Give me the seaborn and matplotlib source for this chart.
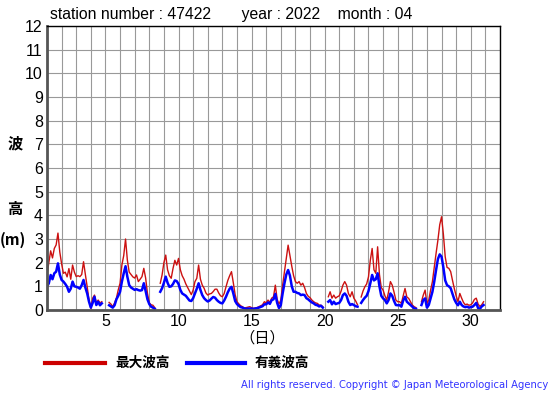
import numpy as np
import pandas as pd
import seaborn as sns
import matplotlib.pyplot as plt
from matplotlib.lines import Line2D

nan = np.nan

# 3-hourly readings, April 1 00h .. April 30 21h (8 values per day)
max_wave = [
    1.5, 2.0, 2.5, 2.2, 2.6, 2.75, 3.25, 2.45,      # 1
    1.95, 1.55, 1.6, 1.4, 1.75, 1.3, 1.9, 1.6,      # 2
    1.41, 1.45, 1.41, 1.5, 2.04, 1.5, 0.98, 0.42,   # 3
    0.07, 0.5, 0.63, 0.28, 0.42, 0.3, 0.35, nan,    # 4
    0.2, nan, 0.32, 0.25, 0.14, 0.3, 0.5, 0.85,     # 5
    1.13, 1.9, 2.3, 3.0, 2.1, 1.6, 1.5, 1.4,        # 6
    1.35, 1.48, 1.2, 1.3, 1.41, 1.76, 1.35, 0.7,    # 7
    0.3, 0.22, 0.2, 0.1, nan, nan, 1.13, 1.48,      # 8
    2.0, 2.32, 1.7, 1.45, 1.34, 1.76, 2.1, 1.9,     # 9
    2.18, 1.7, 1.45, 1.3, 1.1, 0.95, 0.8, 0.65,     # 10
    0.84, 1.2, 1.34, 1.9, 1.3, 1.05, 0.92, 0.72,    # 11
    0.63, 0.68, 0.7, 0.78, 0.88, 0.88, 0.72, 0.6,   # 12
    0.56, 0.7, 0.98, 1.25, 1.45, 1.62, 1.15, 0.65,  # 13
    0.35, 0.26, 0.18, 0.14, 0.08, 0.1, 0.12, 0.14,  # 14
    0.1, 0.07, 0.09, 0.1, 0.14, 0.18, 0.22, 0.35,   # 15
    0.3, 0.42, 0.32, 0.5, 0.56, 1.05, 0.45, 0.25,   # 16
    0.42, 1.05, 1.62, 2.18, 2.74, 2.3, 1.85, 1.45,  # 17
    1.2, 1.13, 1.2, 1.05, 1.13, 0.95, 0.7, 0.58,    # 18
    0.52, 0.42, 0.35, 0.3, 0.28, 0.21, 0.2, 0.14,   # 19
    nan, nan, 0.56, 0.77, 0.5, 0.63, 0.5, 0.56,     # 20
    0.6, 0.8, 1.05, 1.2, 1.05, 0.7, 0.56, 0.77,     # 21
    0.5, 0.38, 0.22, nan, 0.55, 0.8, 0.98, 1.1,     # 22
    1.4, 2.1, 2.6, 1.7, 1.55, 2.67, 1.5, 0.95,      # 23
    0.84, 0.6, 0.42, 0.77, 1.2, 1.05, 0.75, 0.42,   # 24
    0.35, 0.35, 0.28, 0.6, 0.91, 0.55, 0.49, 0.35,  # 25
    0.21, 0.14, 0.1, nan, nan, 0.35, 0.63, 0.84,    # 26
    0.28, 0.42, 0.84, 1.2, 1.8, 2.39, 2.95, 3.6,    # 27
    3.94, 3.2, 2.25, 1.8, 1.76, 1.62, 1.25, 0.9,    # 28
    0.6, 0.35, 0.7, 0.5, 0.32, 0.22, 0.25, 0.2,     # 29
    0.22, 0.3, 0.45, 0.5, 0.25, 0.15, 0.22, 0.35,   # 30
]

sig_wave = [
    0.98, 1.13, 1.48, 1.3, 1.55, 1.62, 1.97, 1.5,   # 1
    1.27, 1.2, 1.1, 0.98, 0.77, 0.9, 1.2, 1.0,      # 2
    0.98, 0.95, 0.9, 1.05, 1.27, 0.95, 0.7, 0.35,   # 3
    0.1, 0.3, 0.56, 0.21, 0.35, 0.2, 0.28, nan,     # 4
    0.18, nan, 0.2, 0.15, 0.1, 0.2, 0.45, 0.6,      # 5
    0.77, 1.2, 1.55, 1.85, 1.4, 1.05, 0.95, 0.9,    # 6
    0.85, 0.88, 0.84, 0.82, 0.84, 1.13, 0.8, 0.45,  # 7
    0.25, 0.14, 0.1, 0.05, nan, nan, 0.77, 0.92,    # 8
    1.15, 1.41, 1.15, 0.98, 1.0, 1.1, 1.25, 1.22,   # 9
    1.1, 0.85, 0.7, 0.65, 0.6, 0.5, 0.4, 0.38,      # 10
    0.5, 0.7, 0.9, 1.13, 0.85, 0.63, 0.5, 0.42,     # 11
    0.36, 0.4, 0.48, 0.55, 0.52, 0.42, 0.35, 0.3,   # 12
    0.28, 0.4, 0.56, 0.75, 0.9, 0.98, 0.7, 0.38,    # 13
    0.25, 0.18, 0.12, 0.1, 0.07, 0.05, 0.06, 0.06,  # 14
    0.06, 0.05, 0.06, 0.08, 0.1, 0.13, 0.16, 0.24,  # 15
    0.24, 0.32, 0.26, 0.42, 0.45, 0.68, 0.3, 0.08,  # 16
    0.21, 0.7, 1.13, 1.5, 1.69, 1.45, 1.0, 0.77,    # 17
    0.77, 0.72, 0.7, 0.63, 0.65, 0.63, 0.5, 0.45,   # 18
    0.38, 0.32, 0.28, 0.22, 0.2, 0.15, 0.18, 0.1,   # 19
    nan, nan, 0.35, 0.42, 0.24, 0.35, 0.25, 0.28,   # 20
    0.3, 0.42, 0.63, 0.7, 0.6, 0.35, 0.21, 0.25,    # 21
    0.21, 0.16, 0.14, nan, 0.3, 0.42, 0.52, 0.6,    # 22
    0.8, 1.13, 1.48, 1.25, 1.3, 1.55, 1.0, 0.6,     # 23
    0.49, 0.42, 0.28, 0.42, 0.7, 0.6, 0.38, 0.21,   # 24
    0.2, 0.21, 0.14, 0.4, 0.56, 0.35, 0.28, 0.21,   # 25
    0.14, 0.07, 0.05, nan, nan, 0.21, 0.42, 0.49,   # 26
    0.1, 0.21, 0.49, 0.77, 1.2, 1.69, 2.15, 2.35,   # 27
    2.25, 1.8, 1.25, 1.05, 1.0, 0.92, 0.68, 0.45,   # 28
    0.3, 0.2, 0.35, 0.21, 0.15, 0.12, 0.14, 0.1,    # 29
    0.12, 0.14, 0.21, 0.3, 0.08, 0.05, 0.15, 0.21,  # 30
]

hours = np.arange(len(max_wave)) * 3
day = 1 + hours / 24

df = pd.DataFrame({"day": day, "max": max_wave, "sig": sig_wave})
# break the line where data is missing
df["seg"] = df["max"].isna().cumsum()

jp = ["Noto Sans CJK JP", "DejaVu Sans"]

fig = plt.figure(figsize=(5.55, 3.95), dpi=100)
ax = fig.add_axes([47 / 555, 85 / 395, 453 / 555, 284 / 395])

sns.lineplot(data=df.dropna(), x="day", y="max", units="seg", estimator=None,
             color="#cc1111", linewidth=1.0, ax=ax)
sns.lineplot(data=df.dropna(), x="day", y="sig", units="seg", estimator=None,
             color="#0000ff", linewidth=1.8, ax=ax)

ax.set_xlim(1, 32)
ax.set_ylim(0, 12)
ax.set_xticks([5, 10, 15, 20, 25, 30])
ax.set_xticks(np.arange(1, 33), minor=True)
ax.set_yticks(np.arange(0, 13))
ax.grid(True, which="both", color="#999999", linewidth=0.8)
ax.set_axisbelow(True)
ax.tick_params(which="both", length=0, labelsize=11.5, pad=3)
ax.set_xlabel("")
ax.set_ylabel("")
for lab in ax.get_xticklabels() + ax.get_yticklabels():
    lab.set_fontfamily("Liberation Sans")

for s in ["top", "right"]:
    ax.spines[s].set_linewidth(1.0)
    ax.spines[s].set_color("black")
for s in ["left", "bottom"]:
    ax.spines[s].set_linewidth(2.0)
    ax.spines[s].set_color("#555555")

fig.text(50 / 555, 1 - 14 / 395,
         "station number : 47422       year : 2022    month : 04",
         fontsize=11.3, family="Liberation Sans", va="center")

fig.text(15 / 555, 1 - 143 / 395, "波", fontsize=11, family=jp, weight="bold", ha="center", va="center")
fig.text(15 / 555, 1 - 209 / 395, "高", fontsize=11, family=jp, weight="bold", ha="center", va="center")
fig.text(13 / 555, 1 - 240 / 395, "(m)", fontsize=11, family=jp, weight="bold", ha="center", va="center")
fig.text(262 / 555, 1 - 338 / 395, "（日）", fontsize=11, family=jp, ha="center", va="center")

# legend
fig.add_artist(Line2D([45 / 555, 105 / 555], [1 - 363 / 395] * 2, color="#cc0000", linewidth=3))
fig.text(115 / 555, 1 - 363 / 395, "最大波高", fontsize=9.8, family=jp, weight="bold", va="center")
fig.add_artist(Line2D([187 / 555, 245 / 555], [1 - 363 / 395] * 2, color="#0000ff", linewidth=3))
fig.text(255 / 555, 1 - 363 / 395, "有義波高", fontsize=9.8, family=jp, weight="bold", va="center")

fig.text(548 / 555, 1 - 385 / 395,
         "All rights reserved. Copyright © Japan Meteorological Agency",
         fontsize=7.2, color="#3333ff", ha="right", va="center", family="DejaVu Sans")

fig.savefig("out.png", dpi=100)
